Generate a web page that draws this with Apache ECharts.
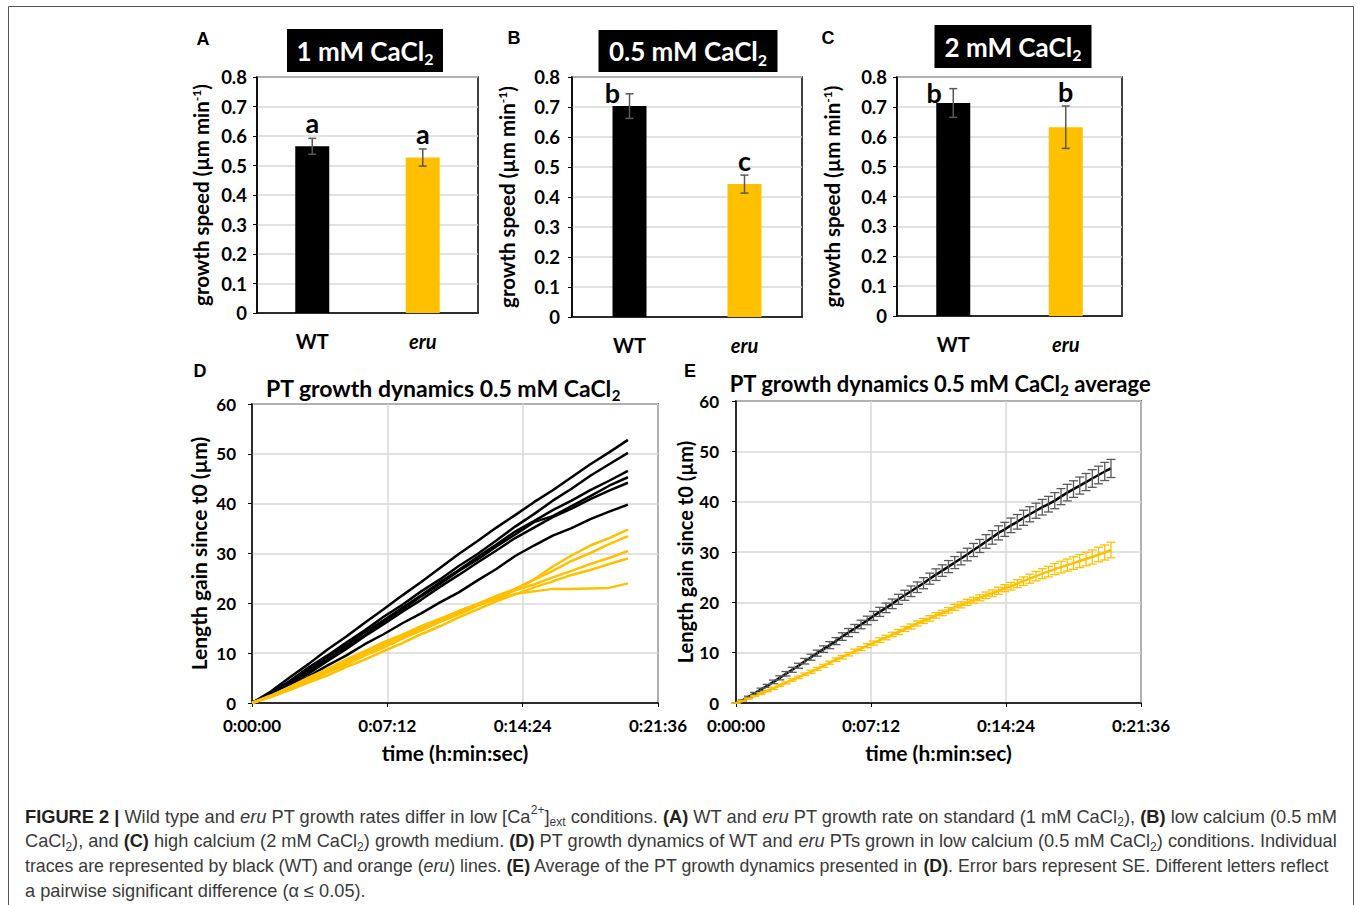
<!DOCTYPE html>
<html><head><meta charset="utf-8">
<script src="https://cdn.jsdelivr.net/npm/echarts@6/dist/echarts.min.js"></script>
<style>html,body{margin:0;padding:0;background:#fff}#chart{width:1357px;height:905px}</style>
</head><body><div id="chart"></div>
<script>
// ---------------- DATA ----------------
const barCategories = ['WT', 'eru'];
const speedMean1mM = [0.565, 0.527];
const speedSE1mM = [0.027, 0.029];
const letters1mM = ['a', 'a'];
const speedMean05mM = [0.703, 0.443];
const speedSE05mM = [0.041, 0.030];
const letters05mM = ['b', 'c'];
const speedMean2mM = [0.713, 0.632];
const speedSE2mM = [0.048, 0.071];
const letters2mM = ['b', 'b'];

const traceTimeSec = [0, 60, 120, 180, 240, 300, 360, 420, 480, 540, 600, 660, 720, 780, 840, 900, 960, 1020, 1080, 1140, 1200];
const wtTrace1 = [0, 2.3, 5.1, 7.8, 10.7, 13.3, 16.1, 18.8, 21.6, 24.3, 27.1, 29.9, 32.5, 35.2, 37.7, 40.3, 42.7, 45.3, 47.9, 50.3, 52.8];
const wtTrace2 = [0, 2.0, 4.4, 7.1, 9.5, 12.1, 14.6, 17.3, 19.7, 22.4, 24.8, 27.5, 29.9, 32.6, 35.4, 37.9, 40.6, 43.0, 45.6, 47.9, 50.2];
const wtTrace3 = [0, 1.8, 4.2, 6.6, 9.3, 11.6, 14.2, 16.6, 19.1, 21.6, 24.2, 26.7, 29.3, 31.8, 34.4, 36.5, 38.7, 40.6, 42.7, 44.6, 46.6];
const wtTrace4 = [0, 1.7, 3.8, 6.3, 8.7, 11.2, 13.6, 16.3, 18.7, 21.4, 23.9, 26.5, 28.8, 31.4, 33.8, 36.3, 37.5, 39.5, 41.5, 43.6, 45.3];
const wtTrace5 = [0, 1.6, 3.7, 5.9, 8.4, 10.8, 13.4, 15.8, 18.3, 20.7, 23.3, 25.7, 28.2, 30.6, 33.1, 35.2, 37.3, 39.0, 40.9, 42.6, 44.2];
const wtTrace6 = [0, 1.5, 3.4, 5.3, 7.5, 9.5, 11.8, 13.8, 16.0, 18.0, 20.2, 22.2, 24.6, 26.9, 29.5, 31.6, 33.6, 35.1, 36.9, 38.4, 39.8];
const eruTrace1 = [0, 1.4, 3.1, 4.6, 6.4, 8.0, 9.8, 11.4, 13.1, 14.6, 16.3, 17.8, 19.5, 21.0, 22.8, 24.8, 27.4, 29.6, 31.6, 33.1, 34.8];
const eruTrace2 = [0, 1.5, 3.2, 5.1, 6.8, 8.7, 10.4, 12.2, 13.7, 15.4, 16.9, 18.5, 19.9, 21.5, 22.9, 24.7, 26.5, 28.5, 30.1, 31.9, 33.5];
const eruTrace3 = [0, 1.3, 2.9, 4.4, 6.1, 7.7, 9.5, 11.1, 12.9, 14.6, 16.4, 18.0, 19.7, 21.1, 22.6, 23.8, 25.2, 26.5, 27.9, 29.1, 30.5];
const eruTrace4 = [0, 1.2, 2.6, 4.1, 5.5, 7.2, 8.7, 10.4, 12.0, 13.8, 15.4, 17.2, 18.8, 20.4, 21.8, 23.2, 24.4, 25.7, 26.7, 27.9, 29.0];
const eruTrace5 = [0, 1.4, 3.2, 4.9, 6.8, 8.5, 10.3, 11.9, 13.6, 15.1, 16.8, 18.2, 19.7, 20.8, 21.9, 22.4, 22.9, 22.9, 23.0, 23.1, 24.0];

const avgTimeSec = [0, 20, 40, 60, 80, 100, 120, 140, 160, 180, 200, 220, 240, 260, 280, 300, 320, 340, 360, 380, 400, 420, 440, 460, 480, 500, 520, 540, 560, 580, 600, 620, 640, 660, 680, 700, 720, 740, 760, 780, 800, 820, 840, 860, 880, 900, 920, 940, 960, 980, 1000, 1020, 1040, 1060, 1080, 1100, 1120, 1140, 1160, 1180, 1200];
const wtAvg = [0, 0.5, 1.2, 1.9, 2.7, 3.4, 4.2, 5.0, 5.8, 6.6, 7.4, 8.3, 9.1, 9.9, 10.7, 11.5, 12.3, 13.2, 14.0, 14.8, 15.6, 16.4, 17.3, 18.1, 18.9, 19.7, 20.6, 21.4, 22.2, 23.0, 23.8, 24.7, 25.5, 26.3, 27.1, 27.9, 28.7, 29.5, 30.4, 31.2, 32.1, 32.9, 33.8, 34.5, 35.3, 36.0, 36.8, 37.5, 38.2, 38.9, 39.5, 40.2, 41.0, 41.8, 42.5, 43.2, 43.9, 44.6, 45.3, 46.0, 46.6];
const wtAvgSE = [0, 0.1, 0.15, 0.2, 0.25, 0.3, 0.35, 0.4, 0.45, 0.5, 0.5, 0.55, 0.6, 0.6, 0.65, 0.7, 0.7, 0.75, 0.8, 0.8, 0.85, 0.85, 0.9, 0.9, 0.95, 0.95, 1.0, 1.0, 1.05, 1.05, 1.1, 1.1, 1.15, 1.15, 1.2, 1.2, 1.25, 1.25, 1.3, 1.3, 1.35, 1.35, 1.4, 1.4, 1.45, 1.45, 1.5, 1.5, 1.5, 1.55, 1.55, 1.6, 1.6, 1.65, 1.65, 1.7, 1.7, 1.75, 1.75, 1.8, 1.8];
const eruAvg = [0, 0.4, 0.9, 1.4, 1.9, 2.4, 2.9, 3.5, 4.0, 4.6, 5.1, 5.7, 6.2, 6.8, 7.4, 8.0, 8.6, 9.1, 9.7, 10.3, 10.8, 11.4, 11.9, 12.5, 13.0, 13.6, 14.1, 14.7, 15.2, 15.8, 16.3, 16.8, 17.4, 17.9, 18.4, 19.0, 19.5, 20.0, 20.4, 20.9, 21.4, 21.8, 22.3, 22.8, 23.2, 23.7, 24.2, 24.7, 25.2, 25.7, 26.1, 26.6, 27.0, 27.4, 27.8, 28.2, 28.6, 29.0, 29.5, 29.9, 30.4];
const eruAvgSE = [0, 0.05, 0.1, 0.1, 0.15, 0.15, 0.2, 0.2, 0.2, 0.25, 0.25, 0.25, 0.3, 0.3, 0.3, 0.3, 0.35, 0.35, 0.35, 0.4, 0.4, 0.4, 0.4, 0.45, 0.45, 0.45, 0.5, 0.5, 0.5, 0.5, 0.5, 0.55, 0.55, 0.55, 0.55, 0.6, 0.6, 0.6, 0.6, 0.6, 0.65, 0.65, 0.7, 0.7, 0.75, 0.8, 0.85, 0.9, 0.95, 1.0, 1.05, 1.1, 1.15, 1.2, 1.25, 1.3, 1.35, 1.4, 1.45, 1.5, 1.55];

// ---------------- STYLE ----------------
const BLACK = '#000000', GOLD = '#FFC000', GRID_C = '#d9d9d9', ERR_C = '#595959';
const FF = 'Lato, "Open Sans", sans-serif';
const CAP_FF = '"Liberation Sans Narrow", "Liberation Sans", Arial, sans-serif';

function pad(n) { return (n < 10 ? '0' : '') + n; }
function fmtTime(v) { v = Math.round(v); return Math.floor(v / 3600) + ':' + pad(Math.floor((v % 3600) / 60)) + ':' + pad(v % 60); }

const chart = echarts.init(document.getElementById('chart'), null, { renderer: 'svg' });

const barPanels = [
  { grid: { left: 257, top: 77, width: 221, height: 236 }, mean: speedMean1mM, se: speedSE1mM, letters: letters1mM, nameGap: 45, labelMargin: 10, letterOff: [[0, -16], [0, -15]] },
  { grid: { left: 572, top: 77, width: 230, height: 240 }, mean: speedMean05mM, se: speedSE05mM, letters: letters05mM, nameGap: 54, labelMargin: 12, letterOff: [[-17, -1], [0, -15]] },
  { grid: { left: 897, top: 77, width: 225, height: 239 }, mean: speedMean2mM, se: speedSE2mM, letters: letters2mM, nameGap: 54, labelMargin: 10, letterOff: [[-19, 4], [0, -14]] }
];
const linePanels = [
  { grid: { left: 252, top: 404, width: 406, height: 299 }, nameGap: 43, labelMargin: 16, nameSize: 21 },
  { grid: { left: 736, top: 401, width: 405, height: 302 }, nameGap: 41, labelMargin: 17, nameSize: 20 }
];

const grids = [], xAxes = [], yAxes = [], series = [];
const gridBase = { show: true, borderColor: '#000', borderWidth: 1.5, containLabel: false };

function errRenderer(color, capHalf, lw, letters, offs) {
  return function (params, api) {
    const x = api.value(0), m = api.value(1), e = api.value(2);
    const hi = api.coord([x, m + e]), lo = api.coord([x, m - e]);
    const st = { stroke: color, lineWidth: lw };
    const ch = [
      { type: 'line', shape: { x1: hi[0], y1: hi[1], x2: lo[0], y2: lo[1] }, style: st },
      { type: 'line', shape: { x1: hi[0] - capHalf, y1: hi[1], x2: hi[0] + capHalf, y2: hi[1] }, style: st },
      { type: 'line', shape: { x1: lo[0] - capHalf, y1: lo[1], x2: lo[0] + capHalf, y2: lo[1] }, style: st }
    ];
    if (letters) {
      const o = offs[params.dataIndex];
      ch.push({ type: 'text', x: hi[0] + o[0], y: hi[1] + o[1], style: { text: letters[params.dataIndex], fill: '#000', fontFamily: FF, fontWeight: 'bold', fontSize: 27, align: 'center', verticalAlign: 'middle' } });
    }
    return { type: 'group', children: ch };
  };
}

const nameRich = { sup: { fontFamily: FF, fontWeight: 'bold', fontSize: 12, color: '#000', verticalAlign: 'top', lineHeight: 22 } };

barPanels.forEach((p, i) => {
  grids.push(Object.assign({}, gridBase, p.grid));
  xAxes.push({
    type: 'category', gridIndex: i, data: barCategories,
    axisLine: { lineStyle: { color: '#000', width: 1.5 } }, axisTick: { show: false },
    axisLabel: {
      margin: 18, color: '#000',
      formatter: v => v === 'eru' ? '{it|' + v + '}' : '{bd|' + v + '}',
      rich: { it: { fontFamily: FF, fontWeight: 'bold', fontStyle: 'italic', fontSize: 20, color: '#000' }, bd: { fontFamily: FF, fontWeight: 'bold', fontSize: 20, color: '#000' } }
    }
  });
  yAxes.push({
    type: 'value', gridIndex: i, min: 0, max: 0.8, interval: 0.1,
    name: 'growth speed (µm min{sup|-1})', nameLocation: 'middle', nameGap: p.nameGap,
    nameTextStyle: { fontFamily: FF, fontWeight: 'bold', fontSize: 20.5, color: '#000', rich: nameRich },
    axisLine: { show: true, lineStyle: { color: '#000', width: 1.5 } },
    axisTick: { show: true, length: 4, lineStyle: { color: '#000' } },
    splitLine: { lineStyle: { color: GRID_C, width: 1.5 } },
    axisLabel: { margin: p.labelMargin, color: '#000', fontFamily: FF, fontWeight: 'bold', fontSize: 18.5, formatter: v => v === 0 ? '0' : v.toFixed(1) }
  });
  series.push({
    type: 'bar', xAxisIndex: i, yAxisIndex: i, barWidth: 34, silent: true,
    data: p.mean.map((v, k) => ({ value: v, itemStyle: { color: k === 0 ? BLACK : GOLD } }))
  });
  series.push({
    type: 'custom', xAxisIndex: i, yAxisIndex: i, silent: true, z: 5,
    renderItem: errRenderer(ERR_C, 4, 1.5, p.letters, p.letterOff),
    encode: { x: 0, y: 1 },
    data: p.mean.map((v, k) => [k, v, p.se[k]])
  });
});

linePanels.forEach((p, j) => {
  const i = j + 3;
  grids.push(Object.assign({}, gridBase, p.grid));
  xAxes.push({
    type: 'value', gridIndex: i, min: 0, max: 1296, interval: 432,
    name: 'time (h:min:sec)', nameLocation: 'middle', nameGap: 39,
    nameTextStyle: { fontFamily: FF, fontWeight: 'bold', fontSize: 21, color: '#000' },
    axisLine: { show: true, lineStyle: { color: '#000', width: 1.5 } },
    axisTick: { show: true, length: 4, lineStyle: { color: '#000' } },
    splitLine: { show: true, lineStyle: { color: GRID_C, width: 1.5 } },
    axisLabel: { margin: 14, showMaxLabel: true, showMinLabel: true, color: '#000', fontFamily: FF, fontWeight: 'bold', fontSize: 17, formatter: fmtTime }
  });
  yAxes.push({
    type: 'value', gridIndex: i, min: 0, max: 60, interval: 10,
    name: 'Length gain since t0 (µm)', nameLocation: 'middle', nameGap: p.nameGap,
    nameTextStyle: { fontFamily: FF, fontWeight: 'bold', fontSize: p.nameSize, color: '#000' },
    axisLine: { show: true, lineStyle: { color: '#000', width: 1.5 } },
    axisTick: { show: true, length: 4, lineStyle: { color: '#000' } },
    splitLine: { lineStyle: { color: GRID_C, width: 1.5 } },
    axisLabel: { margin: p.labelMargin, color: '#000', fontFamily: FF, fontWeight: 'bold', fontSize: 17 }
  });
});

const wtTraces = [wtTrace1, wtTrace2, wtTrace3, wtTrace4, wtTrace5, wtTrace6];
const eruTraces = [eruTrace1, eruTrace2, eruTrace3, eruTrace4, eruTrace5];
function traceSeries(arr, color) {
  return {
    type: 'line', xAxisIndex: 3, yAxisIndex: 3, showSymbol: false, silent: true, animation: false,
    lineStyle: { color: color, width: 2.5 }, z: 3,
    data: arr.map((v, k) => [traceTimeSec[k], v])
  };
}
wtTraces.forEach(t => series.push(traceSeries(t, BLACK)));
eruTraces.forEach(t => series.push(traceSeries(t, GOLD)));

series.push({ type: 'line', xAxisIndex: 4, yAxisIndex: 4, showSymbol: false, silent: true, z: 3,
  lineStyle: { color: BLACK, width: 2.5 }, data: wtAvg.map((v, k) => [avgTimeSec[k], v]) });
series.push({ type: 'custom', xAxisIndex: 4, yAxisIndex: 4, silent: true, z: 4,
  renderItem: errRenderer(ERR_C, 4.5, 1.3), encode: { x: 0, y: 1 },
  data: wtAvg.map((v, k) => [avgTimeSec[k], v, wtAvgSE[k]]) });
series.push({ type: 'line', xAxisIndex: 4, yAxisIndex: 4, showSymbol: false, silent: true, z: 3,
  lineStyle: { color: GOLD, width: 2.5 }, data: eruAvg.map((v, k) => [avgTimeSec[k], v]) });
series.push({ type: 'custom', xAxisIndex: 4, yAxisIndex: 4, silent: true, z: 4,
  renderItem: errRenderer(GOLD, 4.5, 1.3), encode: { x: 0, y: 1 },
  data: eruAvg.map((v, k) => [avgTimeSec[k], v, eruAvgSE[k]]) });

// ---------------- TEXT / GRAPHICS ----------------
const titleRich = {
  s: { fontFamily: FF, fontWeight: 'bold', fontSize: 16, fill: '#fff', verticalAlign: 'bottom', lineHeight: 32 }
};
function boxTitle(cx, cy, w, h, txt) {
  return [
    { type: 'rect', shape: { x: cx - w / 2, y: cy - h / 2, width: w, height: h }, style: { fill: '#000' }, silent: true },
    { type: 'text', x: cx, y: cy, silent: true, style: { text: txt, fill: '#fff', fontFamily: FF, fontWeight: 'bold', fontSize: 26, lineHeight: 32, align: 'center', verticalAlign: 'middle', rich: titleRich } }
  ];
}
function plainTitle(cx, cy, txt, size) {
  const rich = { s: { fontFamily: FF, fontWeight: 'bold', fontSize: Math.round(size * 0.66), fill: '#000', verticalAlign: 'bottom', lineHeight: size + 6 } };
  return { type: 'text', x: cx, y: cy, silent: true, style: { text: txt, fill: '#000', fontFamily: FF, fontWeight: 'bold', fontSize: size, lineHeight: size + 6, align: 'center', verticalAlign: 'middle', rich: rich } };
}
function panelLetter(cx, cy, t) {
  return { type: 'text', x: cx, y: cy, silent: true, style: { text: t, fill: '#000', fontFamily: '"Liberation Sans", Arial, sans-serif', fontWeight: 'bold', fontSize: 18, align: 'center', verticalAlign: 'middle' } };
}
function capRichFor(size) {
  const tok = (extra) => Object.assign({ fontFamily: CAP_FF, fontSize: size, fill: '#3a3a3a', lineHeight: 24 }, extra);
  return {
    b: tok({ fontWeight: 'bold', fill: '#231f20' }),
    i: tok({ fontStyle: 'italic' }),
    sup: tok({ fontSize: 12, verticalAlign: 'top' }),
    sub: tok({ fontSize: 12, verticalAlign: 'bottom' })
  };
}
const captionLines = [
  '{b|FIGURE 2 |} Wild type and {i|eru} PT growth rates differ in low [Ca{sup|2+}]{sub|ext} conditions. {b|(A)} WT and {i|eru} PT growth rate on standard (1 mM CaCl{sub|2}), {b|(B)} low calcium (0.5 mM',
  'CaCl{sub|2}), and {b|(C)} high calcium (2 mM CaCl{sub|2}) growth medium. {b|(D)} PT growth dynamics of WT and {i|eru} PTs grown in low calcium (0.5 mM CaCl{sub|2}) conditions. Individual',
  'traces are represented by black (WT) and orange ({i|eru}) lines. {b|(E)} Average of the PT growth dynamics presented in {b|(D)}. Error bars represent SE. Different letters reflect',
  'a pairwise significant difference (α ≤ 0.05).'
];
const captionSizes = [18.25, 18.2, 17.75, 18.2];
const captionEls = captionLines.map((t, k) => ({
  type: 'text', x: 25, y: 816 + k * 25, silent: true,
  style: { text: t, fontFamily: CAP_FF, fontSize: captionSizes[k], fill: '#3a3a3a', lineHeight: 24, align: 'left', verticalAlign: 'middle', rich: capRichFor(captionSizes[k]) }
}));

const graphics = [].concat(
  [{ type: 'rect', shape: { x: 8.5, y: 6.5, width: 1345, height: 920 }, style: { fill: 'none', stroke: '#555', lineWidth: 1 }, silent: true }],
  boxTitle(365, 50.5, 156, 43, '1 mM CaCl{s|2}'),
  boxTitle(688, 51, 179, 42, '0.5 mM CaCl{s|2}'),
  boxTitle(1013, 46.5, 157, 43, '2 mM CaCl{s|2}'),
  [plainTitle(443, 388, 'PT growth dynamics 0.5 mM CaCl{s|2}', 23), plainTitle(940, 383, 'PT growth dynamics 0.5 mM CaCl{s|2} average', 22)],
  [panelLetter(203, 39, 'A'), panelLetter(514, 38, 'B'), panelLetter(828, 38, 'C'), panelLetter(200, 371, 'D'), panelLetter(690, 371, 'E')],
  captionEls
);

chart.setOption({
  animation: false,
  backgroundColor: '#fff',
  grid: grids, xAxis: xAxes, yAxis: yAxes, series: series,
  graphic: { elements: graphics }
});
</script></body></html>
